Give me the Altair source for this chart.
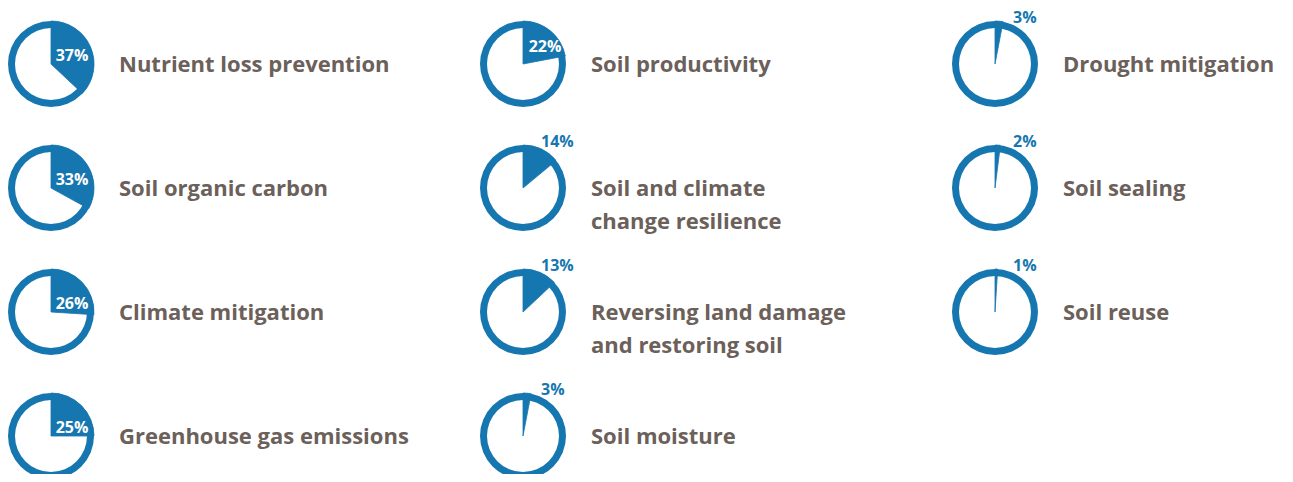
import math
import altair as alt
import pandas as pd

# ---- data ----
topics = [
    "Nutrient loss prevention",
    "Soil organic carbon",
    "Climate mitigation",
    "Greenhouse gas emissions",
    "Soil productivity",
    "Soil and climate\nchange resilience",
    "Reversing land damage\nand restoring soil",
    "Soil moisture",
    "Drought mitigation",
    "Soil sealing",
    "Soil reuse",
]
shares = [37, 33, 26, 25, 22, 14, 13, 3, 3, 2, 1]
grid_col = [0, 0, 0, 0, 1, 1, 1, 1, 2, 2, 2]
grid_row = [0, 1, 2, 3, 0, 1, 2, 3, 0, 1, 2]

df = pd.DataFrame({"topic": topics, "pct": shares, "col": grid_col, "row": grid_row})

BLUE = "#1677b0"
BROWN = "#6b605a"
FONT = "Open Sans"
TAU = 2 * math.pi

x_enc = alt.X("col:Q", scale=alt.Scale(domain=[0, 2], range=[43, 987]), axis=None)
y_enc = alt.Y("row:Q", scale=alt.Scale(domain=[0, 3], range=[50, 422]), axis=None)

base = alt.Chart(df).transform_calculate(pct_label="datum.pct + '%'")

ring = base.mark_arc(theta=0, theta2=TAU, radius=43, radius2=36, color=BLUE).encode(
    x=x_enc, y=y_enc
)

wedge = base.mark_arc(radius=43, radius2=0, color=BLUE, stroke=BLUE, strokeWidth=0.8).encode(
    x=x_enc,
    y=y_enc,
    theta=alt.Theta("pct:Q", stack=False, scale=alt.Scale(domain=[0, 100], range=[0, TAU])),
    theta2=alt.value(0),
)

inside_big = base.transform_filter("datum.pct >= 24").mark_text(
    font=FONT, fontWeight="bold", fontSize=16, color="white", align="center",
    baseline="middle", dx=21, dy=-8,
).encode(x=x_enc, y=y_enc, text="pct_label:N")

inside_narrow = base.transform_filter("datum.pct >= 20 && datum.pct < 24").mark_text(
    font=FONT, fontWeight="bold", fontSize=16, color="white", align="center",
    baseline="middle", dx=22, dy=-17,
).encode(x=x_enc, y=y_enc, text="pct_label:N")

outside = base.transform_filter("datum.pct < 20").mark_text(
    font=FONT, fontWeight="bold", fontSize=16, color=BLUE, align="left",
    baseline="middle", dx=18, dy=-46,
).encode(x=x_enc, y=y_enc, text="pct_label:N")

names = base.mark_text(
    font=FONT, fontWeight="bold", fontSize=22, color=BROWN, align="left",
    baseline="middle", dx=68, dy=1, lineBreak="\n", lineHeight=33,
).encode(x=x_enc, y=y_enc, text="topic:N")

chart = (
    alt.layer(ring, wedge, inside_big, inside_narrow, outside, names)
    .properties(
        width=1277, height=460, background="white",
        padding={"left": 0, "top": 6, "right": 0, "bottom": 0},
        autosize=alt.AutoSizeParams(type="none"),
    )
    .configure_view(stroke=None)
)

chart.save("out.html", embed_options={"renderer": "svg", "actions": False})
